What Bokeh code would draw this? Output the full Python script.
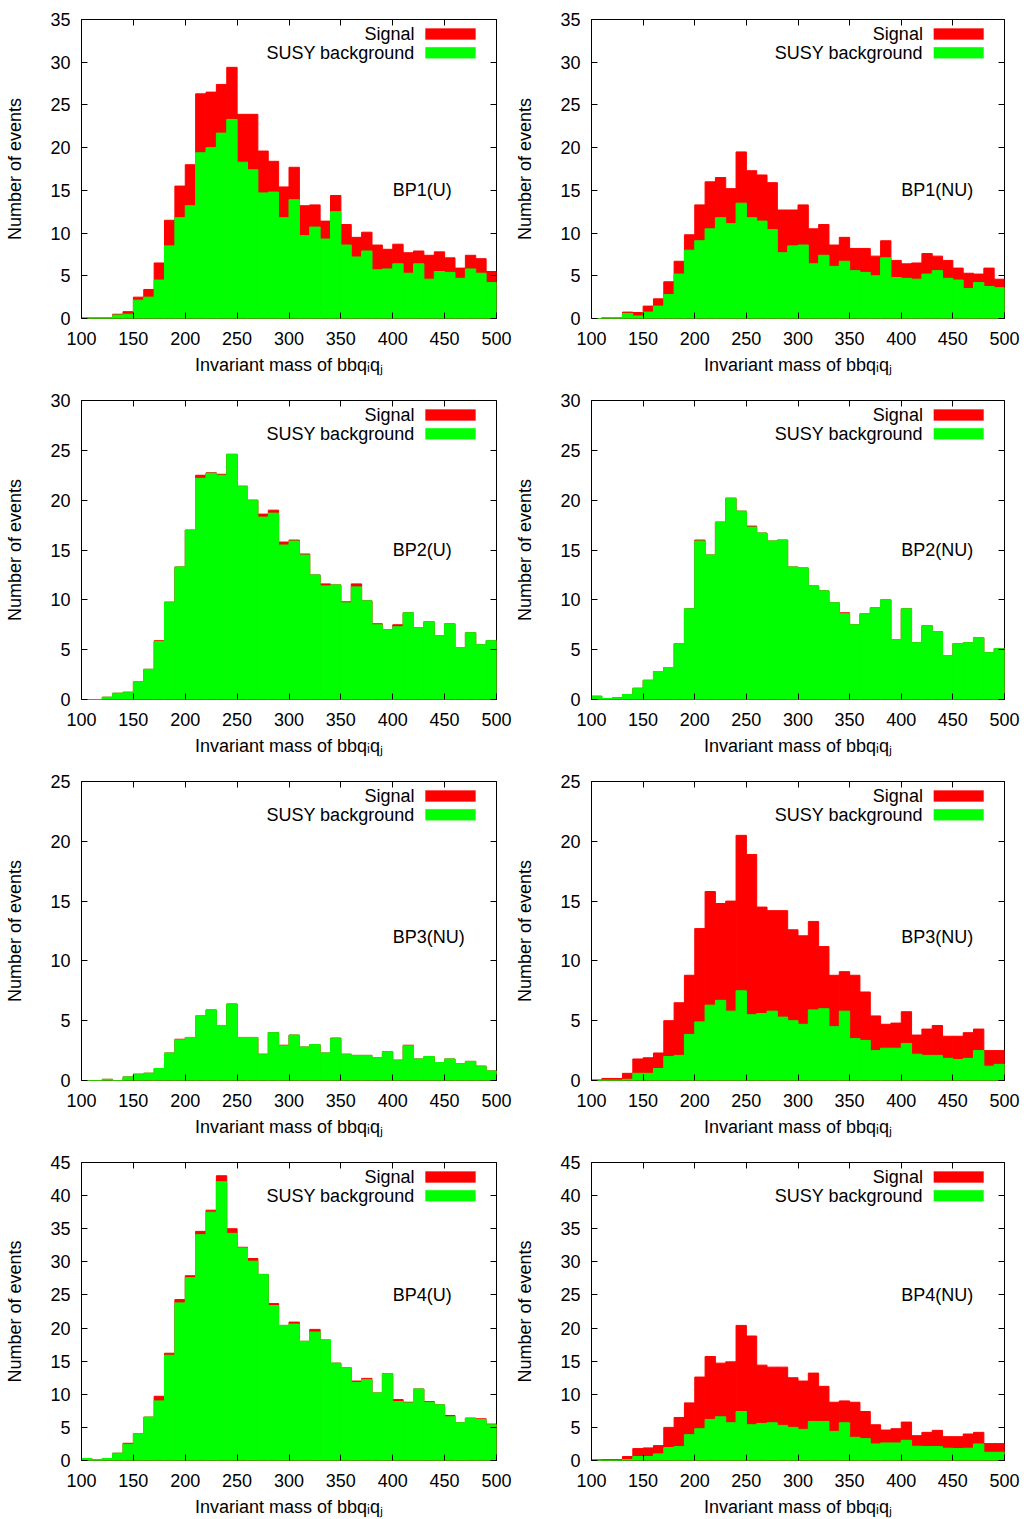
from bokeh.plotting import figure
from bokeh.models import Range1d, LinearAxis, SingleIntervalTicker, Label, BoxAnnotation
from bokeh.layouts import column, row
from bokeh.embed import file_html
from bokeh.resources import INLINE

# ---------------- data ----------------
bin_left = list(range(100, 500, 10))   # 40 bins of width 10 from 100 to 500
bin_width = 10

panel_tags = ["BP1(U)", "BP1(NU)", "BP2(U)", "BP2(NU)", "BP3(NU)", "BP3(NU)", "BP4(U)", "BP4(NU)"]
y_max = [35, 35, 30, 30, 25, 25, 45, 45]
tag_x = 400
tag_y = [15, 15, 15, 15, 12, 12, 25, 25]

legend_labels = ["Signal", "SUSY background"]
x_label = "Invariant mass of bbq\u1d62q\u2c7c"
y_label = "Number of events"

# SUSY background (green) and signal + background (red top), per panel
bg_bp1_u = [0.1, 0.1, 0.1, 0.4, 0.5, 2.15, 2.5, 4.5, 8.5, 11.8, 13.2, 19.4, 20.0, 21.7, 23.3, 18.3, 17.4, 14.7, 14.8, 11.8,
            13.9, 9.7, 10.7, 9.3, 12.5, 8.6, 7.2, 7.9, 5.7, 5.8, 6.4, 5.3, 6.4, 4.6, 5.5, 5.4, 4.7, 5.8, 5.3, 4.2]
tot_bp1_u = [0.1, 0.1, 0.1, 0.5, 0.8, 2.5, 3.4, 6.5, 11.5, 15.5, 18.0, 26.3, 26.5, 27.4, 29.4, 23.9, 23.9, 19.6, 18.4, 15.4,
             17.7, 13.2, 13.3, 11.4, 14.4, 11.0, 9.5, 10.1, 8.6, 8.1, 8.7, 7.7, 7.9, 7.4, 7.8, 7.1, 5.9, 7.4, 7.0, 5.5]

bg_bp1_nu = [0.0, 0.1, 0.1, 0.6, 0.3, 0.75, 1.45, 2.8, 5.2, 8.0, 9.1, 10.5, 11.8, 11.1, 13.5, 11.8, 11.4, 10.4, 7.7, 8.5,
             8.6, 6.4, 7.4, 6.1, 6.7, 5.6, 5.4, 5.0, 7.1, 4.8, 4.7, 4.6, 5.2, 5.6, 4.7, 4.5, 3.5, 4.2, 3.75, 3.6]
tot_bp1_nu = [0.0, 0.1, 0.1, 0.75, 0.7, 1.45, 2.3, 4.3, 6.7, 9.8, 13.3, 16.0, 16.5, 15.2, 19.5, 17.3, 16.8, 15.9, 12.7, 12.7,
              13.3, 10.5, 11.0, 8.6, 9.5, 8.2, 8.2, 7.3, 9.1, 6.8, 6.4, 6.5, 7.6, 7.3, 6.8, 5.9, 5.3, 5.2, 5.9, 4.6]

bg_bp2_u = [0.0, 0.0, 0.23, 0.63, 0.73, 1.77, 3.03, 5.83, 9.77, 13.3, 17.0, 22.2, 22.7, 22.5, 24.6, 21.4, 20.0, 18.3, 18.7, 15.5,
            15.9, 14.5, 12.5, 11.4, 11.5, 9.7, 11.3, 9.9, 7.5, 7.0, 7.3, 8.7, 7.2, 7.8, 6.4, 7.6, 5.2, 6.7, 5.5, 5.9]
tot_bp2_u = [0.0, 0.0, 0.23, 0.63, 0.73, 1.77, 3.03, 5.9, 9.77, 13.3, 17.0, 22.5, 22.75, 22.6, 24.6, 21.4, 20.0, 18.6, 19.0, 15.8,
             16.0, 14.6, 12.5, 11.6, 11.5, 9.8, 11.6, 9.9, 7.6, 7.0, 7.5, 8.7, 7.2, 7.8, 6.4, 7.6, 5.2, 6.7, 5.5, 5.9]

bg_bp2_nu = [0.33, 0.1, 0.17, 0.5, 1.13, 1.93, 2.8, 3.2, 5.6, 9.1, 15.9, 14.5, 17.8, 20.2, 18.9, 17.3, 16.7, 15.9, 16.0, 13.3,
             13.2, 11.4, 10.9, 9.7, 8.6, 7.5, 8.6, 9.2, 10.0, 6.0, 9.1, 5.7, 7.4, 6.8, 4.4, 5.6, 5.7, 6.2, 4.7, 5.1]
tot_bp2_nu = [0.33, 0.1, 0.17, 0.5, 1.13, 1.93, 2.8, 3.2, 5.6, 9.1, 16.0, 14.5, 17.8, 20.2, 18.9, 17.4, 16.7, 15.9, 16.0, 13.3,
              13.2, 11.4, 10.9, 9.7, 8.7, 7.5, 8.6, 9.2, 10.0, 6.0, 9.1, 5.7, 7.4, 6.8, 4.4, 5.6, 5.7, 6.2, 4.7, 5.1]

bg_bp3_a = [0.0, 0.0, 0.1, 0.0, 0.3, 0.53, 0.61, 1.0, 2.3, 3.4, 3.6, 5.4, 5.9, 4.6, 6.4, 3.6, 3.6, 2.2, 4.0, 2.9,
            3.8, 2.8, 3.0, 2.3, 3.5, 2.2, 2.1, 2.1, 1.9, 2.4, 1.7, 2.9, 1.8, 2.0, 1.5, 1.8, 1.4, 1.6, 1.2, 0.8]
tot_bp3_a = [0.0, 0.0, 0.1, 0.0, 0.3, 0.53, 0.61, 1.0, 2.3, 3.45, 3.6, 5.4, 5.9, 4.6, 6.4, 3.6, 3.6, 2.2, 4.0, 2.95,
             3.8, 2.8, 3.0, 2.3, 3.55, 2.2, 2.1, 2.1, 1.9, 2.4, 1.7, 2.95, 1.8, 2.0, 1.5, 1.8, 1.4, 1.6, 1.2, 0.8]

bg_bp3_b = [0.05, 0.03, 0.03, 0.1, 0.6, 0.6, 1.0, 2.0, 2.1, 3.85, 4.9, 6.3, 6.7, 5.8, 7.5, 5.5, 5.6, 5.8, 5.3, 5.0,
            4.7, 5.9, 6.0, 4.5, 5.8, 3.5, 3.35, 2.5, 2.7, 2.7, 3.1, 2.2, 2.1, 2.1, 1.85, 1.75, 1.85, 2.5, 1.2, 1.35]
tot_bp3_b = [0.05, 0.17, 0.17, 0.6, 1.8, 1.9, 2.3, 5.0, 6.5, 8.8, 12.7, 15.8, 14.8, 15.0, 20.5, 18.9, 14.5, 14.2, 14.2, 12.6,
             12.1, 13.3, 11.2, 8.8, 9.1, 8.8, 7.4, 5.4, 4.7, 4.8, 5.75, 3.8, 4.3, 4.6, 3.7, 3.7, 4.0, 4.3, 2.5, 2.5]

bg_bp4_u = [0.3, 0.1, 0.3, 1.1, 2.45, 4.05, 6.55, 9.0, 15.9, 23.8, 27.6, 34.1, 37.5, 42.1, 34.3, 32.1, 30.1, 28.1, 23.4, 20.4,
            20.6, 18.0, 19.4, 18.2, 14.7, 14.0, 11.8, 12.2, 10.2, 13.1, 8.9, 8.7, 10.8, 8.8, 8.4, 6.6, 5.7, 6.4, 6.2, 5.4]
tot_bp4_u = [0.3, 0.1, 0.3, 1.1, 2.6, 4.05, 6.55, 9.7, 16.2, 24.3, 27.9, 34.6, 37.8, 43.0, 35.0, 32.2, 30.5, 28.1, 23.7, 20.4,
             20.9, 18.0, 19.8, 18.2, 14.7, 14.0, 12.0, 12.4, 10.2, 13.1, 9.2, 8.8, 10.8, 8.9, 8.4, 6.8, 5.7, 6.4, 6.3, 5.5]

bg_bp4_nu = [0.05, 0.05, 0.05, 0.15, 0.6, 0.6, 1.0, 1.95, 2.1, 3.9, 4.8, 6.2, 6.6, 5.7, 7.4, 5.4, 5.6, 5.7, 5.3, 5.0,
             4.7, 5.9, 5.9, 4.4, 5.7, 3.5, 3.3, 2.5, 2.65, 2.65, 3.05, 2.15, 2.1, 2.1, 1.85, 1.8, 1.85, 2.5, 1.25, 1.25]
tot_bp4_nu = [0.1, 0.15, 0.15, 0.6, 1.8, 1.9, 2.25, 5.0, 6.5, 8.7, 12.6, 15.7, 14.7, 14.9, 20.4, 18.8, 14.4, 14.1, 14.1, 12.5,
              12.0, 13.2, 11.2, 8.8, 9.0, 8.8, 7.4, 5.4, 4.6, 4.8, 5.8, 3.75, 4.25, 4.55, 3.6, 3.6, 4.0, 4.25, 2.55, 2.55]

backgrounds = [bg_bp1_u, bg_bp1_nu, bg_bp2_u, bg_bp2_nu, bg_bp3_a, bg_bp3_b, bg_bp4_u, bg_bp4_nu]
totals = [tot_bp1_u, tot_bp1_nu, tot_bp2_u, tot_bp2_nu, tot_bp3_a, tot_bp3_b, tot_bp4_u, tot_bp4_nu]

# ---------------- style ----------------
FONT = "Liberation Sans"
FS = "18px"
RED = "#ff0000"
GREEN = "#00ff00"
FIG_W = 512
ROW_H = 381
LAST_ROW_H = 376
FRAME_W = 415
FRAME_H = 299
TOP_B = 19
X0, X1 = 100, 500


def make_panel(i):
    col = i % 2
    last = i >= 6
    ymax = y_max[i]
    left_b = 81 if col == 0 else 77
    right_b = FIG_W - left_b - FRAME_W
    h = LAST_ROW_H if last else ROW_H
    bottom_b = h - TOP_B - FRAME_H

    p = figure(width=FIG_W, height=h, x_range=Range1d(X0, X1), y_range=Range1d(0, ymax),
               output_backend="svg", toolbar_location=None,
               min_border_left=left_b, min_border_right=right_b,
               min_border_top=TOP_B, min_border_bottom=bottom_b,
               background_fill_color="white", border_fill_color="white")
    p.xgrid.visible = False
    p.ygrid.visible = False
    p.outline_line_color = "black"
    p.outline_line_width = 1

    rights = [l + bin_width for l in bin_left]
    p.quad(left=bin_left, right=rights, bottom=0, top=totals[i],
           fill_color=RED, line_color=RED, line_width=1)
    p.quad(left=bin_left, right=rights, bottom=0, top=backgrounds[i],
           fill_color=GREEN, line_color=GREEN, line_width=1)

    # axes
    for ax, interval, lab in ((p.xaxis[0], 50, x_label), (p.yaxis[0], 5, y_label)):
        ax.ticker = SingleIntervalTicker(interval=interval)
        ax.axis_label = lab
        ax.axis_label_text_font = FONT
        ax.axis_label_text_font_size = FS
        ax.axis_label_text_font_style = "normal"
        ax.axis_label_text_color = "black"
        ax.major_label_text_font = FONT
        ax.major_label_text_font_size = FS
        ax.major_label_text_color = "black"
        ax.major_tick_in = 6
        ax.major_tick_out = 0
        ax.minor_tick_in = 0
        ax.minor_tick_out = 0
        ax.major_tick_line_color = "black"
        ax.axis_line_color = None
    p.xaxis[0].major_label_standoff = 13
    p.xaxis[0].axis_label_standoff = 7
    p.yaxis[0].major_label_standoff = 11
    p.yaxis[0].axis_label_standoff = 22

    top_ax = LinearAxis(ticker=SingleIntervalTicker(interval=50))
    right_ax = LinearAxis(ticker=SingleIntervalTicker(interval=5))
    for ax in (top_ax, right_ax):
        ax.major_label_text_font_size = "1px"
        ax.major_label_text_color = None
        ax.major_label_standoff = 0
        ax.major_tick_in = 6
        ax.major_tick_out = 0
        ax.minor_tick_in = 0
        ax.minor_tick_out = 0
        ax.major_tick_line_color = "black"
        ax.axis_line_color = None
    p.add_layout(top_ax, "above")
    p.add_layout(right_ax, "right")

    # legend (gnuplot style: text right aligned, swatch to its right)
    sx = (X1 - X0) / FRAME_W
    sy = ymax / FRAME_H
    text_x = X1 - 82 * sx
    sw_l = X1 - 71 * sx
    sw_r = X1 - 21 * sx
    for k, (lab, colr) in enumerate(zip(legend_labels, (RED, GREEN))):
        yc = ymax - (14.5 + 18.8 * k) * sy
        p.add_layout(Label(x=text_x, y=yc, text=lab, text_align="right", text_baseline="middle",
                           text_font=FONT, text_font_size=FS, text_color="black"))
        p.add_layout(BoxAnnotation(left=sw_l, right=sw_r, bottom=yc - 5.5 * sy, top=yc + 5.5 * sy,
                                   fill_color=colr, fill_alpha=1.0, line_color=colr, line_width=1))

    p.add_layout(Label(x=tag_x, y=tag_y[i], text=panel_tags[i], text_align="left", text_baseline="middle",
                       text_font=FONT, text_font_size=FS, text_color="black"))
    return p


panels = [make_panel(i) for i in range(8)]
layout = column(row(panels[0], panels[1]), row(panels[2], panels[3]),
                row(panels[4], panels[5]), row(panels[6], panels[7]))

open("out.html", "w").write(file_html(layout, INLINE))
